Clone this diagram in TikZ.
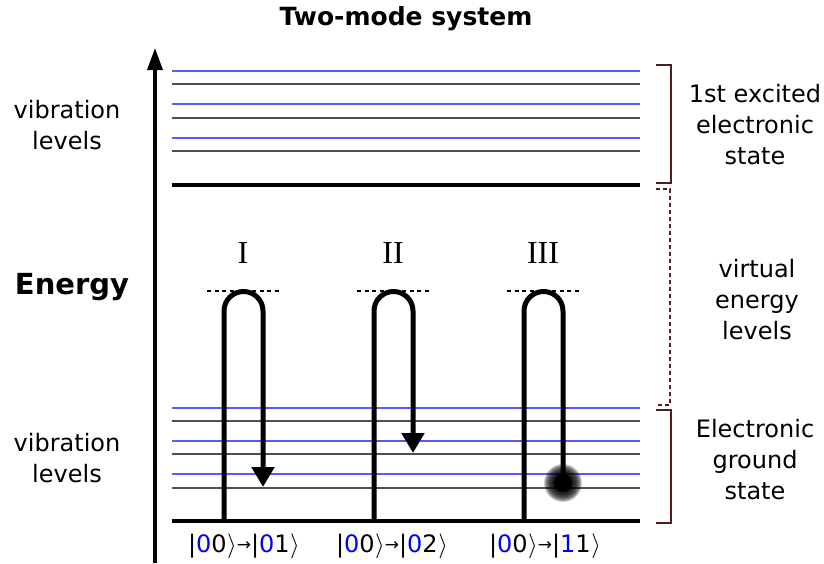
\documentclass[tikz,border=0pt]{standalone}
\usepackage{fontspec}
\setmainfont{DejaVu Sans}
\newfontfamily\romfont{Liberation Serif}
\usetikzlibrary{arrows.meta}
\definecolor{lvblue}{RGB}{90,90,250}
\definecolor{lvgray}{RGB}{80,80,80}
\definecolor{brk}{RGB}{80,30,30}
\definecolor{kblue}{RGB}{0,0,255}
\tikzset{
  bluelevel/.style={draw=lvblue, line width=1.4pt},
  graylevel/.style={draw=lvgray, line width=1.4pt},
  thicklevel/.style={draw=black, line width=3.2pt},
  loopline/.style={draw=black, line width=5pt},
  virt/.style={draw=black, line width=1.3pt, dash pattern=on 4pt off 3.5pt},
  brace/.style={draw=brk, line width=1.3pt},
  lbl/.style={font=\fontsize{24}{31}\selectfont, align=center, inner sep=0pt},
  roman/.style={font=\romfont\fontsize{32}{32}\selectfont, inner sep=0pt},
  ket/.style={font=\fontsize{24}{26}\selectfont, inner sep=0pt},
}
\newcommand{\bl}[1]{\textcolor{kblue}{#1}}
\newcommand{\smarrow}{\raisebox{0.12ex}{\fontsize{17}{17}\selectfont→}}
\newcommand{\rket}{\kern0.5pt{\fontsize{25}{25}\selectfont$\rangle$}}
\begin{document}
\begin{tikzpicture}[x=1pt,y=-1pt]
\useasboundingbox (0,0) rectangle (824,563);
% axis
\coordinate (axb) at (155,563);
\coordinate (axt) at (155,48);
\draw[line width=3.5pt, -{Triangle[width=15pt,length=22pt]}] (axb) -- (axt);
% upper levels
\foreach \y in {71,104,138} \draw[bluelevel] (172,\y) -- (640,\y);
\foreach \y in {84,118,151} \draw[graylevel] (172,\y) -- (640,\y);
\draw[thicklevel] (172,185) -- (640,185);
% lower levels
\foreach \y in {408,441,474} \draw[bluelevel] (172,\y) -- (640,\y);
\foreach \y in {421,454,488} \draw[graylevel] (172,\y) -- (640,\y);
\draw[thicklevel] (172,521) -- (640,521);
% virtual levels
\draw[virt] (207,291) -- (281,291);
\draw[virt] (357,291) -- (431,291);
\draw[virt] (507,291) -- (581,291);
% loops
\coordinate (s1) at (224,521); \coordinate (e1) at (263,487);
\coordinate (s2) at (374,521); \coordinate (e2) at (413,453);
\coordinate (s3) at (524,521); \coordinate (e3) at (563,483);
\draw[loopline, -{Triangle[width=22pt,length=20pt]}] (s1) -- (224,311) arc[start angle=180, end angle=360, radius=19.5] -- (e1);
\draw[loopline, -{Triangle[width=22pt,length=20pt]}] (s2) -- (374,311) arc[start angle=180, end angle=360, radius=19.5] -- (e2);
\draw[loopline] (s3) -- (524,311) arc[start angle=180, end angle=360, radius=19.5] -- (e3);
% blurred ball
\foreach \r in {19,18,...,9} \fill[black, opacity=0.2] (e3) circle (\r);
\fill[black] (e3) circle (9);
% roman labels
\node[roman] (r1) at (243,253) {I};
\node[roman] (r2) at (393,253) {II};
\node[roman] (r3) at (543,253) {III};
% kets
\node[ket] (k1) at (244,546) {|\bl{0}0\rket\smarrow|\bl{0}1\rket};
\node[ket] (k2) at (392,546) {|\bl{0}0\rket\smarrow|\bl{0}2\rket};
\node[ket] (k3) at (545,546) {|\bl{0}0\rket\smarrow|\bl{1}1\rket};
% title and side labels
\node[font=\bfseries\fontsize{25}{28}\selectfont, inner sep=0pt] (title) at (406,19) {Two-mode system};
\node[lbl] (vib1) at (67,125) {vibration\\levels};
\node[lbl] (vib2) at (67,458) {vibration\\levels};
\node[font=\bfseries\fontsize{29}{30}\selectfont, inner sep=0pt] (en) at (72,287) {Energy};
\node[lbl] (exc) at (755,125) {1st excited\\electronic\\state};
\node[lbl] (virtl) at (757,300) {virtual\\energy\\levels};
\node[lbl] (gnd) at (755,460) {Electronic\\ground\\state};
% brackets
\draw[brace] (656,65) -- (671,65) -- (671,183) -- (656,183);
\draw[brace, dash pattern=on 4pt off 3pt] (656,189) -- (670,189) -- (670,405) -- (656,405);
\draw[brace] (656,410) -- (671,410) -- (671,523) -- (656,523);
\end{tikzpicture}
\end{document}
